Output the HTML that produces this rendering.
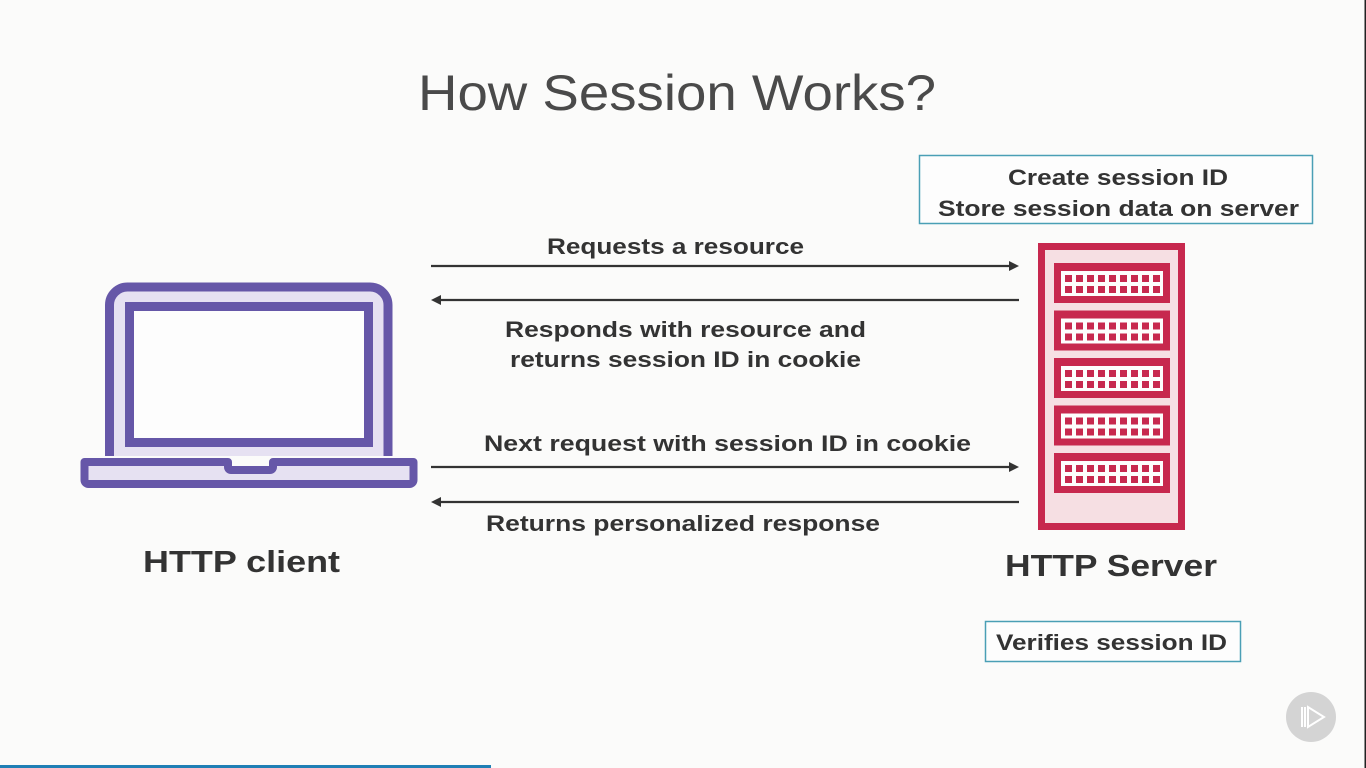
<!DOCTYPE html>
<html><head><meta charset="utf-8"><style>
html,body{margin:0;padding:0;background:#fbfbfa;}
svg{display:block}
text{font-family:"Liberation Sans",sans-serif;fill:#333;}
.b{font-weight:bold;font-size:22px}
</style></head><body>
<svg width="1366" height="768" viewBox="0 0 1366 768">
<rect width="1366" height="768" fill="#fbfbfa"/>
<text x="418" y="110" font-size="50" textLength="518" lengthAdjust="spacingAndGlyphs" style="fill:#4a4a4a">How Session Works?</text>

<!-- laptop -->
<path d="M109.5 456 V305 a18 18 0 0 1 18 -18 H370 a18 18 0 0 1 18 18 V456" fill="#e6e1f2" stroke="#6657a8" stroke-width="9"/>
<rect x="129.5" y="306.5" width="239" height="136" fill="#fdfdfd" stroke="#6657a8" stroke-width="9"/>
<path d="M84.5 462 H228 v5 a3 3 0 0 0 3 3 H270 a3 3 0 0 0 3 -3 v-5 H413.5 V480 a4 4 0 0 1 -4 4 H88.5 a4 4 0 0 1 -4 -4 Z" fill="#e6e1f2" stroke="#6657a8" stroke-width="8" stroke-linejoin="round"/>

<!-- server -->
<rect x="1041.5" y="246.5" width="140" height="280" fill="#f6dfe3" stroke="#c7284e" stroke-width="7"/>
<g id="dr">
<rect x="1054" y="263" width="116" height="40" fill="#c7284e"/>
<rect x="1061" y="271" width="102" height="25" fill="#fdfdfd"/>
<g fill="#c7284e">
<rect x="1065" y="275" width="7" height="7"/><rect x="1076" y="275" width="7" height="7"/><rect x="1087" y="275" width="7" height="7"/><rect x="1098" y="275" width="7" height="7"/><rect x="1109" y="275" width="7" height="7"/><rect x="1120" y="275" width="7" height="7"/><rect x="1131" y="275" width="7" height="7"/><rect x="1142" y="275" width="7" height="7"/><rect x="1153" y="275" width="7" height="7"/>
<rect x="1065" y="286" width="7" height="7"/><rect x="1076" y="286" width="7" height="7"/><rect x="1087" y="286" width="7" height="7"/><rect x="1098" y="286" width="7" height="7"/><rect x="1109" y="286" width="7" height="7"/><rect x="1120" y="286" width="7" height="7"/><rect x="1131" y="286" width="7" height="7"/><rect x="1142" y="286" width="7" height="7"/><rect x="1153" y="286" width="7" height="7"/>
</g></g>
<use href="#dr" y="47.5"/><use href="#dr" y="95"/><use href="#dr" y="142.5"/><use href="#dr" y="190"/>

<!-- arrows -->
<g stroke="#333" stroke-width="2.2">
<line x1="431" y1="266" x2="1010" y2="266"/>
<line x1="440" y1="300" x2="1019" y2="300"/>
<line x1="431" y1="467" x2="1010" y2="467"/>
<line x1="440" y1="502" x2="1019" y2="502"/>
</g>
<g fill="#333">
<path d="M1019 266 l-10 -5 v10z"/><path d="M431 300 l10 -5 v10z"/>
<path d="M1019 467 l-10 -5 v10z"/><path d="M431 502 l10 -5 v10z"/>
</g>

<text class="b" x="547" y="254" textLength="257" lengthAdjust="spacingAndGlyphs">Requests a resource</text>
<text class="b" x="505" y="337" textLength="361" lengthAdjust="spacingAndGlyphs">Responds with resource and</text>
<text class="b" x="510" y="367" textLength="351" lengthAdjust="spacingAndGlyphs">returns session ID in cookie</text>
<text class="b" x="484" y="451" textLength="487" lengthAdjust="spacingAndGlyphs">Next request with session ID in cookie</text>
<text class="b" x="486" y="531" textLength="394" lengthAdjust="spacingAndGlyphs">Returns personalized response</text>
<text x="143" y="572" font-size="31" font-weight="bold" textLength="197" lengthAdjust="spacingAndGlyphs">HTTP client</text>
<text x="1005" y="576" font-size="31" font-weight="bold" textLength="212" lengthAdjust="spacingAndGlyphs">HTTP Server</text>

<rect x="919.5" y="155.5" width="393" height="68" fill="#fdfdfd" stroke="#4a9fb5" stroke-width="1.5"/>
<text class="b" x="1008" y="185" textLength="220" lengthAdjust="spacingAndGlyphs">Create session ID</text>
<text class="b" x="938" y="216" textLength="361" lengthAdjust="spacingAndGlyphs">Store session data on server</text>

<rect x="985.5" y="621.5" width="255" height="40" fill="#fdfdfd" stroke="#4a9fb5" stroke-width="1.5"/>
<text class="b" x="996" y="650" textLength="231" lengthAdjust="spacingAndGlyphs">Verifies session ID</text>

<circle cx="1311" cy="717" r="25" fill="#d4d4d4"/>
<g fill="none" stroke="#fff" stroke-width="2">
<path d="M1302 707 v20"/><path d="M1305 707 v20"/><path d="M1308 707 v20 l16 -10z"/>
</g>
<rect x="0" y="765" width="491" height="3" fill="#1f7fb5"/>
<rect x="1364.5" y="0" width="1.5" height="768" fill="#222"/>
</svg>
</body></html>
